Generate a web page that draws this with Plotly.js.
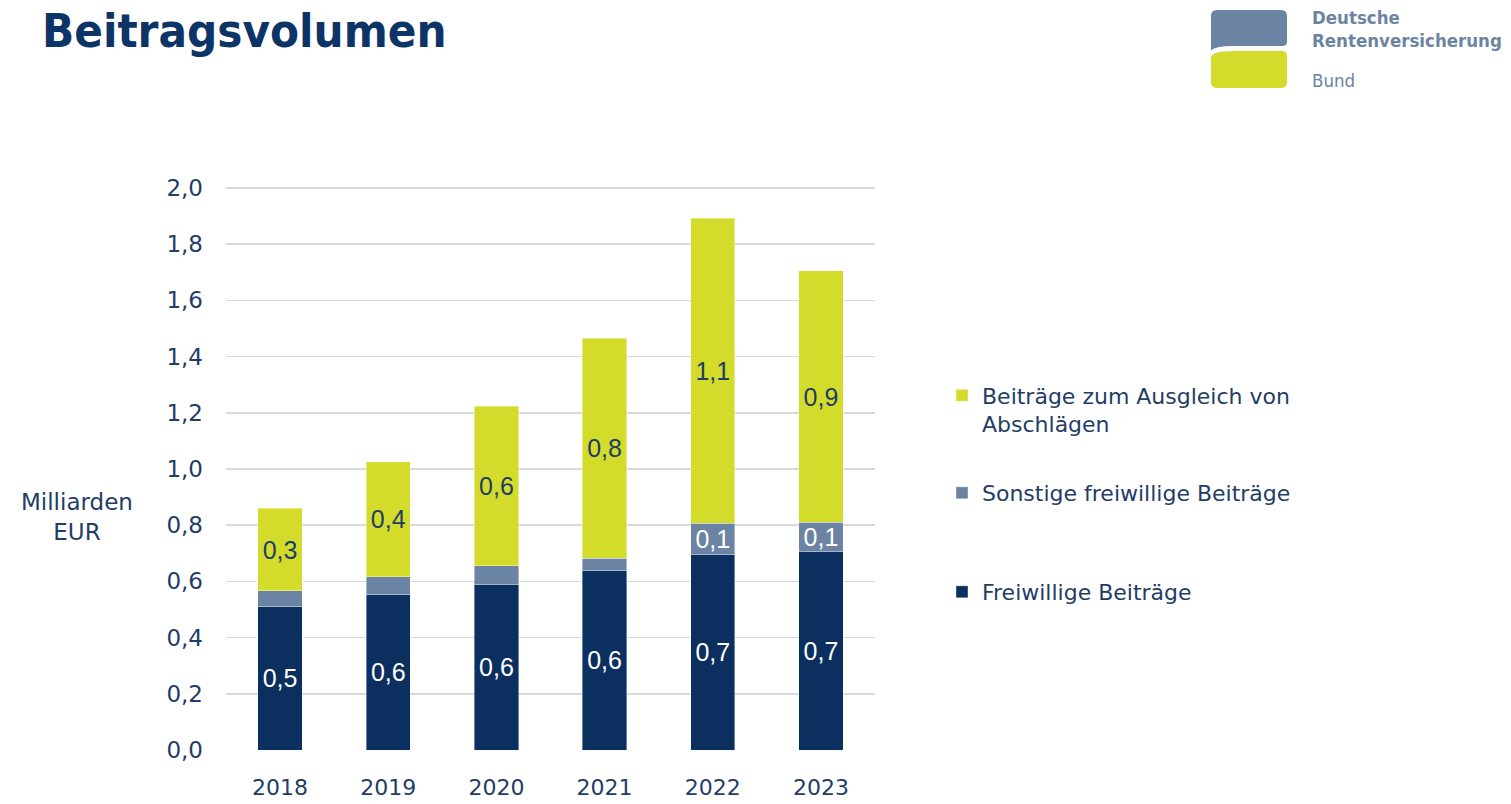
<!DOCTYPE html>
<html>
<head>
<meta charset="utf-8">
<script src="https://cdn.plot.ly/plotly-3.0.1.min.js"></script>
<style>
  html, body { margin: 0; padding: 0; background: #ffffff; }
  #chart { width: 1511px; height: 804px; }
</style>
</head>
<body>
<div id="chart"></div>
<script>
// ---- Data (Milliarden EUR) ----
const years = ['2018', '2019', '2020', '2021', '2022', '2023'];
const freiwilligeBeitraege = [0.510, 0.552, 0.590, 0.638, 0.694, 0.708];
const sonstigeBeitraege    = [0.056, 0.065, 0.066, 0.044, 0.113, 0.103];
const ausgleichBeitraege   = [0.294, 0.408, 0.568, 0.784, 1.085, 0.894];
const seriesNames = ['Freiwillige Beiträge', 'Sonstige freiwillige Beiträge', 'Beiträge zum Ausgleich von<br>Abschlägen'];
const yTickVals = [0, 0.2, 0.4, 0.6, 0.8, 1.0, 1.2, 1.4, 1.6, 1.8, 2.0];

// ---- Styling ----
const NAVY = '#0b2f5e';
const GREYBLUE = '#6b84a3';
const YELLOW = '#d4dc2b';
const TEXTCOL = '#1f3d66';
const FONT = 'DejaVu Sans, Verdana, sans-serif';
const COND = 'DejaVu Sans Condensed, DejaVu Sans, sans-serif';
const LABELFONT = 'Liberation Sans, Arial, sans-serif';

const fmt = v => v.toFixed(1).replace('.', ',');
const labelsOf = (arr, minShow) => arr.map(v => (v >= minShow ? fmt(v) : ''));

// plot area geometry (pixels)
const L = 226, R = 875, T = 182, B = 750;
const PX_PER_UNIT = 281;
const W = 1511, H = 804;
const PX = x => (x - L) / (R - L);
const PY = y => (B - y) / (B - T);

const common = {
  type: 'bar',
  x: years,
  textposition: 'inside',
  insidetextanchor: 'middle',
  textangle: 0,
  constraintext: 'none',
  hoverinfo: 'skip',
  cliponaxis: false,
  showlegend: true
};

const traces = [
  Object.assign({}, common, {
    name: seriesNames[0],
    y: freiwilligeBeitraege,
    text: labelsOf(freiwilligeBeitraege, 0),
    marker: { color: NAVY, line: { color: 'rgba(255,255,255,0.5)', width: 0.8 } },
    textfont: { family: LABELFONT, size: 25, color: '#ffffff' },
    legend: 'legend3'
  }),
  Object.assign({}, common, {
    name: seriesNames[1],
    y: sonstigeBeitraege,
    text: labelsOf(sonstigeBeitraege, 0.1),
    marker: { color: GREYBLUE, line: { color: 'rgba(255,255,255,0.5)', width: 0.8 } },
    textfont: { family: LABELFONT, size: 25, color: '#ffffff' },
    legend: 'legend2'
  }),
  Object.assign({}, common, {
    name: seriesNames[2],
    y: ausgleichBeitraege,
    text: labelsOf(ausgleichBeitraege, 0),
    marker: { color: YELLOW, line: { color: 'rgba(255,255,255,0.5)', width: 0.8 } },
    textfont: { family: LABELFONT, size: 25, color: TEXTCOL },
    legend: 'legend'
  })
];

function legendAt(yPix, valign) {
  return {
    visible: true,
    x: PX(942), xanchor: 'left',
    y: PY(yPix), yanchor: 'middle',
    bgcolor: 'rgba(0,0,0,0)',
    borderwidth: 0,
    font: { family: FONT, size: 22, color: TEXTCOL },
    valign: valign || 'middle',
    itemclick: false, itemdoubleclick: false
  };
}

// Logo geometry (pixels) -> paper path
function pathPx(cmds) {
  return cmds.map(c => PX(c[0]).toFixed(5) + ',' + PY(c[1]).toFixed(5)).join(' ');
}
const topLogo = 'M ' + pathPx([[1217, 10]]) + ' L ' + pathPx([[1281, 10]]) +
  ' Q ' + pathPx([[1287, 10], [1287, 16]]) + ' L ' + pathPx([[1287, 42]]) +
  ' Q ' + pathPx([[1287, 46], [1282, 46]]) + ' L ' + pathPx([[1234, 46]]) +
  ' Q ' + pathPx([[1214, 46], [1211, 51]]) + ' L ' + pathPx([[1211, 16]]) +
  ' Q ' + pathPx([[1211, 10], [1217, 10]]) + ' Z';
const botLogo = 'M ' + pathPx([[1211, 57]]) +
  ' Q ' + pathPx([[1213, 51], [1234, 51]]) + ' L ' + pathPx([[1282, 51]]) +
  ' Q ' + pathPx([[1287, 51], [1287, 56]]) + ' L ' + pathPx([[1287, 82]]) +
  ' Q ' + pathPx([[1287, 88], [1281, 88]]) + ' L ' + pathPx([[1217, 88]]) +
  ' Q ' + pathPx([[1211, 88], [1211, 82]]) + ' Z';

const layout = {
  width: W, height: H,
  margin: { l: L, r: W - R, t: T, b: H - B, pad: 0 },
  paper_bgcolor: '#ffffff',
  plot_bgcolor: '#ffffff',
  showlegend: true,
  barmode: 'stack',
  bargap: 0.59,
  separators: ',.',
  font: { family: FONT, size: 22, color: TEXTCOL },
  title: {
    text: '<b>Beitragsvolumen</b>',
    font: { family: COND, size: 47, color: '#0d3466' },
    x: 42 / W, xref: 'container', xanchor: 'left',
    y: 1 - 31 / H, yref: 'container', yanchor: 'middle'
  },
  xaxis: {
    type: 'category',
    showgrid: false, showline: false, zeroline: false,
    ticks: '',
    tickfont: { family: FONT, size: 22, color: TEXTCOL },
    ticklabelstandoff: 22,
    fixedrange: true
  },
  yaxis: {
    range: [0, (B - T) / PX_PER_UNIT],
    tickvals: yTickVals,
    tickformat: '.1f',
    showgrid: true, gridcolor: '#d9d9d9', gridwidth: 1.5,
    zeroline: false, showline: false,
    ticks: '',
    tickfont: { family: FONT, size: 23, color: TEXTCOL },
    ticklabelstandoff: 22,
    fixedrange: true
  },
  legend: legendAt(410, 'top'),
  legend2: legendAt(493),
  legend3: legendAt(592),
  annotations: [
    {
      text: 'Milliarden<br>EUR',
      xref: 'paper', yref: 'paper',
      x: PX(77), y: PY(517), xanchor: 'center', yanchor: 'middle',
      showarrow: false,
      font: { family: FONT, size: 23, color: TEXTCOL }
    },
    {
      text: '<b>Deutsche</b>',
      xref: 'paper', yref: 'paper',
      x: PX(1310), y: PY(18), xanchor: 'left', yanchor: 'middle',
      showarrow: false,
      font: { family: COND, size: 18.5, color: GREYBLUE }
    },
    {
      text: '<b>Rentenversicherung</b>',
      xref: 'paper', yref: 'paper',
      x: PX(1310), y: PY(40), xanchor: 'left', yanchor: 'middle',
      showarrow: false,
      font: { family: COND, size: 18.5, color: GREYBLUE }
    },
    {
      text: 'Bund',
      xref: 'paper', yref: 'paper',
      x: PX(1310), y: PY(81), xanchor: 'left', yanchor: 'middle',
      showarrow: false,
      font: { family: COND, size: 18.5, color: GREYBLUE }
    }
  ],
  shapes: [
    { type: 'path', xref: 'paper', yref: 'paper', path: topLogo, fillcolor: GREYBLUE, line: { width: 0 }, layer: 'above' },
    { type: 'path', xref: 'paper', yref: 'paper', path: botLogo, fillcolor: YELLOW, line: { width: 0 }, layer: 'above' }
  ]
};

Plotly.newPlot('chart', traces, layout, { displayModeBar: false, staticPlot: true });
</script>
</body>
</html>
